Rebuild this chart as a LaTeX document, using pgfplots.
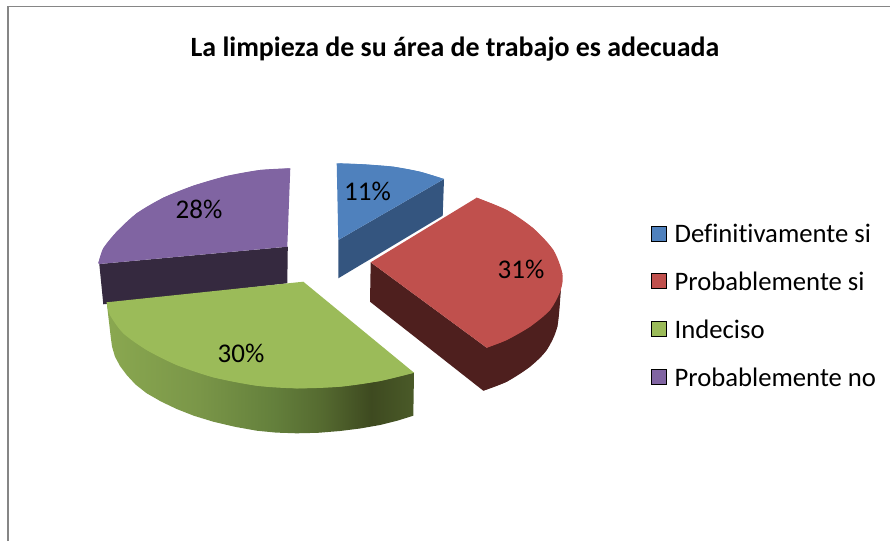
\documentclass[border=0pt]{standalone}
\usepackage{pgfplots}
\pgfplotsset{compat=1.18}
\usepackage{fontspec}
\setmainfont[Ligatures=NoCommon]{Carlito}
\definecolor{cblue}{HTML}{4F81BD}
\definecolor{cred}{HTML}{C0504D}
\definecolor{cgreen}{HTML}{9BBB59}
\definecolor{cpurple}{HTML}{8064A2}
\definecolor{dblue}{HTML}{34557F}
\definecolor{dred}{HTML}{4E1F1E}
\definecolor{dpurple}{HTML}{35293F}
\definecolor{framegray}{HTML}{868686}
\definecolor{green1}{HTML}{8AA850}
\definecolor{green2}{HTML}{7A9648}
\definecolor{green3}{HTML}{64803C}
\definecolor{green4}{HTML}{556A30}
\definecolor{green5}{HTML}{3E4A20}
\definecolor{green6}{HTML}{4A5A28}
\pgfdeclarehorizontalshading{greenside}{100bp}{
 color(0bp)=(green1);color(25bp)=(green1);color(40bp)=(green2);color(52bp)=(green3);color(60bp)=(green4);color(68bp)=(green5);color(75bp)=(green6);color(100bp)=(green6)}
% wedge: colour, straight-sided points, arc points
\newcommand{\slice}[3]{%
 \addplot[fill=#1,draw=none,forget plot] coordinates {#2 #3} --cycle;
 \addplot[smooth,fill=#1,draw=none,forget plot] coordinates {#3};}
\begin{document}
\begin{tikzpicture}
\begin{axis}[
 name=ax,
 scale only axis,width=890pt,height=541pt,
 xmin=0,xmax=890,ymin=0,ymax=541,y dir=reverse,
 hide axis,clip=true,
 legend cell align=left,
 legend image code/.code={\fill[#1] (0pt,-7.5pt) rectangle (15pt,7.5pt);},
 legend style={at={(axis cs:648,218.5)},anchor=north west,draw=none,fill=none,
  font=\fontsize{26.7}{28}\selectfont,row sep=22.8pt,
  nodes={inner sep=2pt}},
]
% frame
\addplot[framegray,line width=1.8pt,forget plot] coordinates {(8,541) (8,6.5)};
\addplot[framegray,line width=1.8pt,forget plot] coordinates {(7.1,6.5) (890,6.5)};
% purple
\addplot[fill=dpurple,draw=none,forget plot] coordinates {(99.3,264) (287.8,246.7) (287.3,283.3) (103.3,304.3)} --cycle;
\slice{cpurple}{(287.3,246.7) (99.3,264)}{(98.3,263.3) (103.3,248.3) (116.7,231.7) (136.7,213.3) (163.3,197.7) (193.3,185.7) (226.7,176) (260,170) (290.3,168.3)}
% green side
\addplot[shade,shading=greenside,draw=none,forget plot] coordinates {(106.7,302.3) (414,372.7) (413.3,415.7) (397,420.8) (380,425) (360,428.5) (340,431) (318,432.8) (296.7,433.3) (276,432.6) (256.7,430.7) (235,426.8) (213.3,421.7) (194,415.8) (176.7,409) (161,401.5) (146.7,393.3) (135.5,384.5) (126.7,375) (120,366) (115,356.7) (112,346.5) (110.7,336.7)} --cycle;
% green top
\slice{cgreen}{(303.3,281.7)}{(106.7,302.3) (110,315) (123.3,333.3) (146.7,350) (176.7,365) (213.3,377.3) (256.7,385.7) (296.7,388.3) (340,386.7) (380,381) (414,372.7)}
% blue
\addplot[fill=dblue,draw=none,forget plot] coordinates {(338.3,240) (444,179) (442.7,215.7) (338.3,278.3)} --cycle;
\slice{cblue}{(338.3,240)}{(336.7,163.3) (363.3,164.3) (393.3,166.7) (420,171.7) (444,179)}
% red side
\addplot[fill=dred,draw=none,forget plot] coordinates {(370.7,262.3) (486.7,347.7) (560.7,290) (557.3,326.7) (546.7,350) (530,366.7) (506.7,381.7) (483.3,390.7) (370,301.7)} --cycle;
\addplot[smooth,fill=dred,draw=none,forget plot] coordinates {(483.3,390.7) (506.7,381.7) (530,366.7) (546.7,350) (557.3,326.7) (560.7,290)};
\slice{cred}{(370.7,262.3)}{(476.7,197.7) (506.7,210) (533.3,228.3) (553.3,250) (562.3,273.3) (560.7,290) (550,310) (530,326.7) (506.7,340) (486.7,347.7)}
% labels
\node[font=\fontsize{27}{28}\selectfont] at (axis cs:367.5,191) {11\%};
\node[font=\fontsize{27}{28}\selectfont] at (axis cs:521,269) {31\%};
\node[font=\fontsize{27}{28}\selectfont] at (axis cs:241,353) {30\%};
\node[font=\fontsize{27}{28}\selectfont] at (axis cs:199,209) {28\%};
\node[font=\fontsize{27.9}{30}\selectfont\bfseries] at (axis cs:455,49) {La limpieza de su área de trabajo es adecuada};
% legend
\addlegendimage{fill=cblue}\addlegendentry{\hspace*{6pt}\strut Definitivamente si}
\addlegendimage{fill=cred}\addlegendentry{\hspace*{6pt}\strut Probablemente si}
\addlegendimage{fill=cgreen}\addlegendentry{\hspace*{6pt}\strut Indeciso}
\addlegendimage{fill=cpurple}\addlegendentry{\hspace*{6pt}\strut Probablemente no}
\end{axis}
\path[use as bounding box] (ax.south west) rectangle (ax.north east);
\end{tikzpicture}
\end{document}
